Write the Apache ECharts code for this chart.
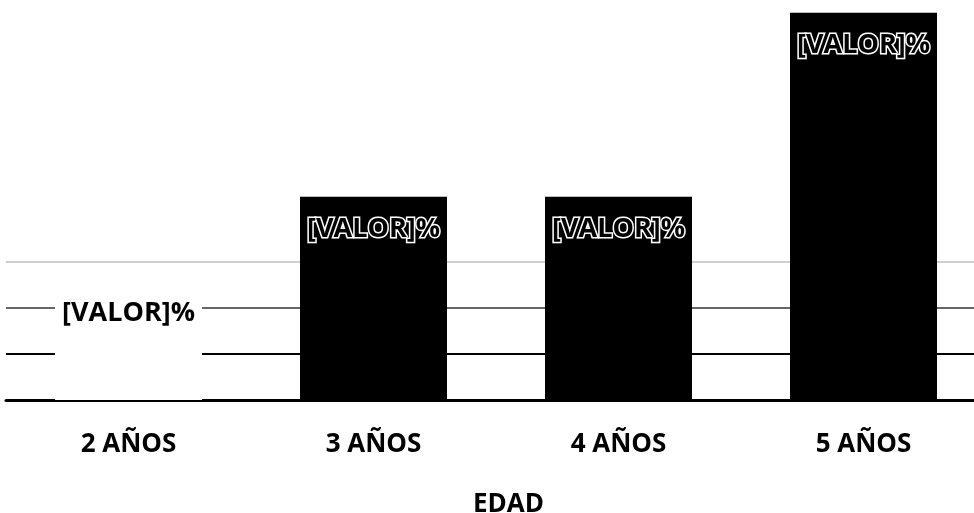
<!DOCTYPE html>
<html>
<head>
<meta charset="utf-8">
<script src="https://cdn.jsdelivr.net/npm/echarts@6/dist/echarts.min.js"></script>
<style>html,body{margin:0;padding:0;background:#fff;overflow:hidden;width:974px;height:513px;}#c{width:986px;height:513px;}</style>
</head>
<body>
<div id="c"></div>
<script>
var categories = ['2 AÑOS', '3 AÑOS', '4 AÑOS', '5 AÑOS'];
var values = [13, 22.1, 22.1, 42.1];
var barColors = ['#ffffff', '#000000', '#000000', '#000000'];
var labelText = '[VALOR]%';
var axisTitle = 'EDAD';

var chart = echarts.init(document.getElementById('c'), null, {renderer: 'canvas'});
chart.setOption({
  animation: false,
  backgroundColor: '#ffffff',
  title: {
    text: axisTitle,
    left: 468, top: 487,
    textStyle: {fontFamily: 'Open Sans', fontWeight: 'bold', fontSize: 26, color: '#000'}
  },
  grid: {left: 6, top: 0, right: 0, bottom: 113, containLabel: false},
  xAxis: {
    type: 'category',
    data: categories,
    axisLine: {show: true, lineStyle: {color: '#000', width: 3}},
    axisTick: {show: false},
    axisLabel: {margin: 32, fontFamily: 'Open Sans', fontWeight: 'bold', fontSize: 26, color: '#000'}
  },
  yAxis: {
    type: 'value', min: 0, max: 43.5, interval: 5,
    axisLabel: {show: false}, axisLine: {show: false}, axisTick: {show: false},
    splitLine: {show: true, lineStyle: {width: 2, color: ['#000', '#000', '#666', '#cfcfcf', '#fff', '#fff', '#fff', '#fff', '#fff', '#fff']}}
  },
  series: [{
    type: 'bar',
    barCategoryGap: '40%',
    data: values.map(function (v, i) { return {value: v, itemStyle: {color: barColors[i]}}; }),
    label: {
      show: true, position: 'insideTop', distance: 19,
      formatter: function () { return labelText; },
      fontFamily: 'Open Sans', fontWeight: 'bold', fontSize: 27, color: '#000',
      textBorderColor: '#fff', textBorderWidth: 3
    }
  }]
});
</script>
</body>
</html>
